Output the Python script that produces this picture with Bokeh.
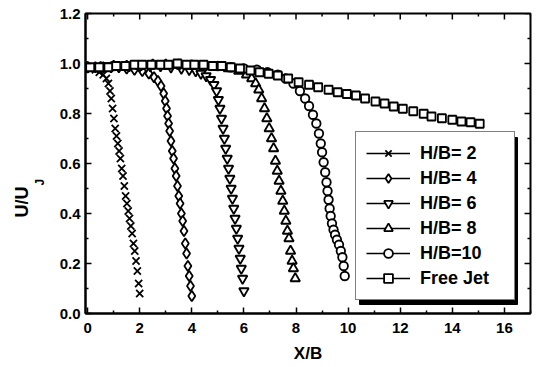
import math
import numpy as np
from bokeh.plotting import figure
from bokeh.models import (Range1d, Legend, LegendItem, Title,
                          PrintfTickFormatter, FixedTicker, ColumnDataSource)
from bokeh.embed import file_html
from bokeh.resources import INLINE

# ---------------- data ----------------
x_tick_vals = [0, 2, 4, 6, 8, 10, 12, 14, 16]
x_minor_vals = [1, 3, 5, 7, 9, 11, 13, 15, 17]
y_tick_vals = [0.0, 0.2, 0.4, 0.6, 0.8, 1.0, 1.2]
y_minor_vals = [0.1, 0.3, 0.5, 0.7, 0.9, 1.1]

labels = ["H/B= 2", "H/B= 4", "H/B= 6", "H/B= 8", "H/B=10", "Free Jet"]

x2 = [0.0, 0.15, 0.3, 0.45, 0.6, 0.72, 0.8, 0.86, 0.91, 0.96, 1.01, 1.06, 1.11, 1.16, 1.21, 1.26,
      1.31, 1.36, 1.41, 1.46, 1.51, 1.56, 1.61, 1.66, 1.71, 1.76, 1.81, 1.86, 1.91, 1.96, 2.0]
y2 = [0.985, 0.98, 0.975, 0.965, 0.955, 0.94, 0.92, 0.89, 0.86, 0.82, 0.78, 0.74, 0.71, 0.68, 0.65, 0.62,
      0.58, 0.55, 0.51, 0.47, 0.44, 0.41, 0.38, 0.35, 0.32, 0.28, 0.25, 0.21, 0.17, 0.12, 0.08]

x4 = [0.0, 0.3, 0.6, 0.9, 1.2, 1.5, 1.8, 2.1, 2.35, 2.55, 2.7, 2.82, 2.92, 2.98, 3.03, 3.07, 3.11, 3.15,
      3.2, 3.25, 3.3, 3.35, 3.4, 3.45, 3.5, 3.55, 3.6, 3.65, 3.7, 3.75, 3.8, 3.85, 3.9, 3.95, 4.0]
y4 = [0.985, 0.985, 0.985, 0.985, 0.985, 0.98, 0.975, 0.97, 0.96, 0.945, 0.93, 0.91, 0.88, 0.85, 0.82,
      0.79, 0.76, 0.73, 0.69, 0.65, 0.62, 0.58, 0.55, 0.51, 0.47, 0.44, 0.40, 0.37, 0.33, 0.28, 0.24,
      0.19, 0.15, 0.11, 0.07]

x6 = [0.0, 0.4, 0.8, 1.2, 1.6, 2.0, 2.4, 2.8, 3.2, 3.6, 3.9, 4.15, 4.35, 4.55, 4.72, 4.85, 4.95, 5.02,
      5.08, 5.14, 5.2, 5.25, 5.3, 5.36, 5.41, 5.46, 5.51, 5.56, 5.61, 5.66, 5.71, 5.76, 5.81, 5.86, 5.9,
      5.95, 6.0]
y6 = [0.985, 0.985, 0.99, 0.99, 0.99, 0.99, 0.99, 0.99, 0.985, 0.98, 0.975, 0.97, 0.96, 0.95, 0.935,
      0.915, 0.89, 0.855, 0.82, 0.78, 0.74, 0.70, 0.66, 0.62, 0.58, 0.54, 0.50, 0.46, 0.42, 0.38, 0.34,
      0.30, 0.26, 0.22, 0.18, 0.14, 0.09]

x8 = [0.0, 0.5, 1.0, 1.5, 2.0, 2.5, 3.0, 3.5, 4.0, 4.5, 5.0, 5.4, 5.8, 6.1, 6.3, 6.45, 6.57, 6.68,
      6.79, 6.88, 6.97, 7.06, 7.14, 7.21, 7.28, 7.35, 7.42, 7.49, 7.55, 7.61, 7.67, 7.73, 7.79, 7.85,
      7.9, 7.97]
y8 = [0.985, 0.985, 0.99, 0.99, 0.99, 0.995, 0.995, 0.995, 0.99, 0.99, 0.985, 0.98, 0.97, 0.955, 0.94,
      0.92, 0.895, 0.86, 0.82, 0.78, 0.74, 0.70, 0.66, 0.61, 0.57, 0.53, 0.49, 0.45, 0.41, 0.37, 0.33,
      0.30, 0.25, 0.21, 0.18, 0.14]

x10 = [0.0, 0.5, 1.0, 1.5, 2.0, 2.5, 3.0, 3.5, 4.0, 4.5, 5.0, 5.5, 6.0, 6.5, 6.9, 7.3, 7.6, 7.9, 8.15,
       8.35, 8.5, 8.65, 8.78, 8.88, 8.95, 9.0, 9.06, 9.12, 9.17, 9.21, 9.25, 9.29, 9.33, 9.38, 9.44,
       9.5, 9.57, 9.65, 9.72, 9.78, 9.83, 9.87]
y10 = [0.985, 0.985, 0.99, 0.99, 0.99, 0.995, 0.995, 0.995, 0.995, 0.99, 0.99, 0.985, 0.98, 0.975,
       0.965, 0.955, 0.94, 0.92, 0.89, 0.86, 0.83, 0.795, 0.76, 0.72, 0.68, 0.645, 0.605, 0.565, 0.525,
       0.49, 0.455, 0.42, 0.39, 0.36, 0.335, 0.315, 0.295, 0.275, 0.25, 0.225, 0.19, 0.15]

x_fj = [0.1, 0.45, 0.8, 1.1, 1.45, 1.8, 2.1, 2.45, 2.8, 3.1, 3.45, 3.8, 4.1, 4.45, 4.8, 5.15, 5.5,
        5.85, 6.25, 6.6, 6.95, 7.3, 7.7, 8.1, 8.5, 8.85, 9.25, 9.6, 9.95, 10.3, 10.65, 11.05, 11.4,
        11.75, 12.1, 12.5, 12.9, 13.2, 13.6, 14.0, 14.35, 14.7, 15.05]
y_fj = [0.985, 0.985, 0.985, 0.99, 0.99, 0.995, 0.995, 0.995, 0.995, 0.995, 1.0, 0.995, 0.995, 0.995,
        0.99, 0.99, 0.985, 0.98, 0.972, 0.965, 0.959, 0.952, 0.94, 0.925, 0.915, 0.905, 0.895, 0.885,
        0.878, 0.872, 0.86, 0.848, 0.84, 0.828, 0.819, 0.809, 0.799, 0.788, 0.781, 0.775, 0.768, 0.765,
        0.759]

# ---------------- figure ----------------
FONT = "Liberation Sans"
W, H = 541, 367
FL, FR, FT, FB = 85, 530, 13, 313          # frame edges in pixels
X0, X1, Y0, Y1 = -0.08, 17.0, 0.0, 1.2

def px2x(px):
    return X0 + (px - FL) / (FR - FL) * (X1 - X0)

def px2y(py):
    return Y1 - (py - FT) / (FB - FT) * (Y1 - Y0)

p = figure(width=W, height=H, x_range=Range1d(X0, X1), y_range=Range1d(Y0, Y1),
           output_backend="svg", toolbar_location=None,
           min_border_left=FL, min_border_right=W - FR, min_border_top=FT, min_border_bottom=H - FB,
           background_fill_color="white", border_fill_color="white")
p.xgrid.grid_line_color = None
p.ygrid.grid_line_color = None
p.outline_line_color = "black"
p.outline_line_width = 2

xt = FixedTicker(ticks=x_tick_vals, minor_ticks=x_minor_vals)
yt = FixedTicker(ticks=y_tick_vals, minor_ticks=y_minor_vals)

for ax in (p.xaxis[0], p.yaxis[0]):
    ax.axis_line_width = 2
    ax.axis_line_color = "black"
    ax.major_tick_in = 6
    ax.major_tick_out = 0
    ax.minor_tick_in = 3
    ax.minor_tick_out = 0
    ax.major_tick_line_width = 1.5
    ax.minor_tick_line_width = 1.5
    ax.major_tick_line_color = "black"
    ax.minor_tick_line_color = "black"
    ax.major_label_text_font = FONT
    ax.major_label_text_font_style = "bold"
    ax.major_label_text_font_size = "15px"
    ax.major_label_text_color = "black"

p.xaxis.ticker = xt
p.yaxis.ticker = yt
p.yaxis.formatter = PrintfTickFormatter(format="%.1f")
p.xaxis.major_label_standoff = 9
p.yaxis.major_label_standoff = 5
p.xaxis.axis_label = "X/B"
p.xaxis.axis_label_text_font = FONT
p.xaxis.axis_label_text_font_style = "bold"
p.xaxis.axis_label_text_font_size = "17px"
p.xaxis.axis_label_text_color = "black"
p.xaxis.axis_label_standoff = 8

# mirrored inward ticks on the top and right edges (half of each dash is clipped by the frame)
p.scatter(x=x_tick_vals, y=[Y1] * len(x_tick_vals), marker="dash", angle=math.pi / 2, size=12,
          line_color="black", line_width=1.5)
p.scatter(x=x_minor_vals, y=[Y1] * len(x_minor_vals), marker="dash", angle=math.pi / 2, size=6,
          line_color="black", line_width=1.5)
p.scatter(x=[X1] * len(y_tick_vals), y=y_tick_vals, marker="dash", size=12,
          line_color="black", line_width=1.5)
p.scatter(x=[X1] * len(y_minor_vals), y=y_minor_vals, marker="dash", size=6,
          line_color="black", line_width=1.5)

# legend geometry (pixels)
LG_L, LG_T, LG_R, LG_B = 355, 133, 513, 300
SH = 4
p.quad(left=[px2x(LG_L + SH)], right=[px2x(LG_R + SH)], top=[px2y(LG_T + SH)], bottom=[px2y(LG_B + SH)],
       fill_color="black", line_color="black")

series = [
    (x2, y2, "x", 10),
    (x4, y4, "diamond", 10.5),
    (x6, y6, "inverted_triangle", 9.5),
    (x8, y8, "triangle", 9.5),
    (x10, y10, "circle", 8.5),
    (x_fj, y_fj, "square", 8),
]

items = []
for (xs, ys, mk, sz), lab in zip(series, labels):
    src = ColumnDataSource(dict(x=xs, y=ys))
    dummy = ColumnDataSource(dict(x=np.array([np.nan]), y=np.array([np.nan])))
    lr = p.line("x", "y", source=dummy, line_color="black", line_width=1.3)
    sr = p.scatter("x", "y", source=src, marker=mk, size=sz,
                   line_color="black", fill_color="white", line_width=1.8)
    items.append(LegendItem(label=lab, renderers=[lr, sr]))

legend = Legend(items=items, location=(LG_L - FL, FB - LG_B),
                label_text_font=FONT, label_text_font_style="bold", label_text_font_size="18px",
                label_text_color="black",
                glyph_width=44, glyph_height=22, label_height=22, spacing=3, padding=10, margin=0,
                label_standoff=10, label_width=LG_R - LG_L - 20 - 44 - 10,
                border_line_color="black", border_line_width=1.5,
                background_fill_color="white", background_fill_alpha=1.0)
p.add_layout(legend)

# y-axis title: U/U with subscript J
p.add_layout(Title(text="J", align="left", offset=FB - 185, standoff=20, text_font=FONT,
                   text_font_size="12px", text_font_style="bold", text_color="black"), "left")
p.add_layout(Title(text="U/U", align="left", offset=FB - 217, standoff=-22, text_font=FONT,
                   text_font_size="18px", text_font_style="bold", text_color="black"), "left")

open("out.html", "w").write(file_html(p, INLINE))
